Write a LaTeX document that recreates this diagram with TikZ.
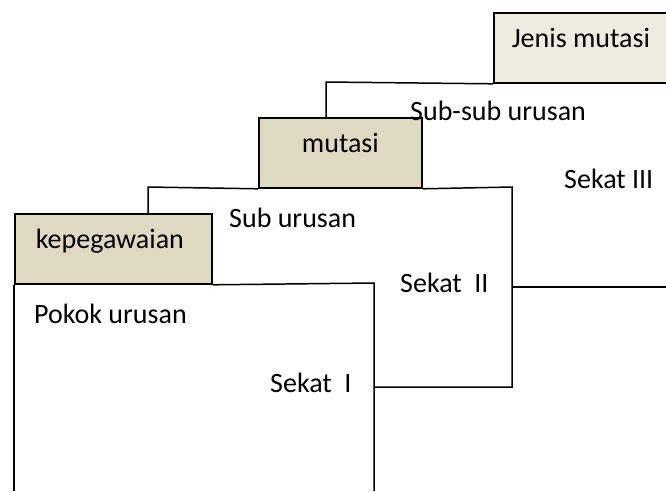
\documentclass[tikz,border=0pt]{standalone}
\usepackage{fontspec}
\setmainfont{Carlito}
\definecolor{boxlight}{HTML}{EEEBE0}
\definecolor{boxdark}{HTML}{DDD9C3}
\begin{document}
\begin{tikzpicture}[x=1pt,y=-1pt,
  font=\fontsize{28}{33}\selectfont,
  tab/.style={draw=black, line width=1.8pt, inner sep=0pt, anchor=north west,
    text height=10pt, text depth=10pt},
  frame/.style={draw=black, line width=1.5pt},
  lbl/.style={anchor=base west, inner sep=0pt}]
\useasboundingbox (0,0) rectangle (666,491);
% tabs
\node[tab, fill=boxlight, minimum width=174pt, minimum height=70pt] (jenis) at (493,12) {Jenis mutasi};
\node[tab, fill=boxdark, minimum width=163pt, minimum height=70pt] (mut) at (258,117) {mutasi};
\node[tab, fill=boxdark, minimum width=197pt, minimum height=70pt,
  inner xsep=21pt, text width=155pt, align=left] (kep) at (14,213) {kepegawaian};
% frame coordinates
\coordinate (c1) at (326,82);
\coordinate (c2) at (148,187);
\coordinate (c3) at (512,187);
\coordinate (c4) at (512,387);
\coordinate (c5) at (374,387);
\coordinate (c6) at (512,287);
\coordinate (c7) at (666,287);
\coordinate (c8) at (374,283);
\coordinate (c9) at (374,491);
\coordinate (c10) at (14,491);
% frames
\draw[frame] (mut.north -| c1) -- (c1) -- (jenis.south west);
\draw[frame] (kep.north -| c2) -- (c2) -- (mut.south west);
\draw[frame] (mut.south east) -- (c3) -- (c4) -- (c5);
\draw[frame] (c6) -- (c7);
\draw[frame] (kep.south east) -- (c8) -- (c9);
\draw[frame] (kep.south west) -- (c10);
% labels
\node[lbl] (l1) at (410,120) {Sub-sub urusan};
\node[lbl] (l2) at (564,188) {Sekat III};
\node[lbl] (l3) at (229,227) {Sub urusan};
\node[lbl] (l4) at (400,292) {Sekat\ \ II};
\node[lbl] (l5) at (34,323) {Pokok urusan};
\node[lbl] (l6) at (270,392) {Sekat\ \ I};
\end{tikzpicture}
\end{document}
